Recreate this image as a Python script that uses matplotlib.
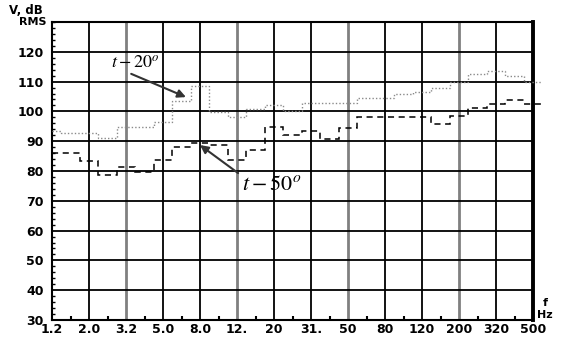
import numpy as np
import matplotlib
matplotlib.use("Agg")
import matplotlib.pyplot as plt

plt.rcParams["mathtext.fontset"] = "stix"

# third-octave band centres, Hz
bands = [1.25, 1.6, 2.0, 2.5, 3.15, 4.0, 5.0, 6.3, 8.0, 10, 12.5, 16, 20, 25,
         31.5, 40, 50, 63, 80, 100, 125, 160, 200, 250, 315, 400, 500]
# levels, dB RMS
t20 = [93.3, 92.7, 92.7, 91.2, 94.7, 94.7, 96.3, 103.6, 108.5, 99.7, 98.2, 100.7, 102.0, 100.0,
       102.7, 102.7, 102.7, 104.6, 104.6, 106.0, 106.6, 107.8, 109.8, 112.5, 113.7, 111.9, 109.8]
t50 = [85.9, 85.9, 83.5, 78.7, 81.5, 79.8, 83.6, 87.9, 89.5, 88.7, 83.6, 87.0, 94.9, 92.1,
       93.5, 90.7, 94.5, 98.0, 98.0, 98.0, 98.0, 95.7, 98.5, 101.2, 102.6, 103.8, 102.6]
xlabels = ["1.2", "2.0", "3.2", "5.0", "8.0", "12.", "20", "31.", "50", "80",
           "120", "200", "320", "500"]
ylabels = [30, 40, 50, 60, 70, 80, 90, 100, 110, 120]

n = len(bands)
pos = np.arange(n) * 0.5
edges = np.concatenate([[0], pos[:-1] + 0.25, [pos[-1] + 0.25]])

fig = plt.figure(figsize=(5.66, 3.4), dpi=100)
ax = fig.add_axes([0.0919, 0.0588, 0.8498, 0.8765])
ax.set_xlim(0, len(xlabels) - 1)
ax.set_ylim(30, 130)

# grid
for i in range(1, len(xlabels) - 1):
    gray = (i % 3 == 2)
    ax.axvline(i, color="#808080" if gray else "black", lw=2.0 if gray else 1.3, zorder=1)
for v in range(40, 130, 10):
    ax.axhline(v, color="black", lw=1.3, zorder=1)

ax.stairs(t20, edges, color="#8a8a8a", lw=1.0, ls=(0, (1, 1.5)), baseline=None,
          clip_on=False, zorder=3)
ax.stairs(t50, edges, color="black", lw=1.1, ls=(0, (4, 3)), baseline=None,
          clip_on=False, zorder=3)

for s in ax.spines.values():
    s.set_linewidth(1.5)
ax.spines["right"].set_linewidth(2.8)

ax.set_xticks(range(len(xlabels)))
ax.set_xticklabels(xlabels)
ax.set_xticks(np.arange(0.5, len(xlabels) - 1, 1), minor=True)
ax.set_yticks(ylabels)
ax.set_yticklabels([str(v) for v in ylabels])
ax.set_yticks(np.arange(30, 131, 2), minor=True)
ax.tick_params(axis="both", which="major", length=0, labelsize=9)
ax.tick_params(axis="x", which="major", pad=2)
ax.tick_params(axis="y", which="major", pad=6)
ax.tick_params(axis="x", which="minor", direction="in", length=3, width=1.5, bottom=True)
ax.tick_params(axis="y", which="minor", direction="in", length=2, width=1)
for lab in ax.get_xticklabels() + ax.get_yticklabels():
    lab.set_fontweight("bold")

fig.text(0.045, 0.968, "V, dB", fontsize=8.5, fontweight="bold", ha="center", va="center")
fig.text(0.058, 0.935, "RMS", fontsize=8, fontweight="bold", ha="center", va="center")
fig.text(0.963, 0.11, "f", fontsize=8, fontweight="bold", ha="center", va="center")
fig.text(0.963, 0.075, "Hz", fontsize=8, fontweight="bold", ha="center", va="center")

# labels with arrows
ax.text(2.24, 116.4, "$t - 20^o$", fontsize=13, ha="center", va="center", zorder=5)
ax.annotate("", xy=(3.62, 104.8), xytext=(2.14, 112.6),
            arrowprops=dict(arrowstyle="-|>", color="#333333", lw=1.5, mutation_scale=12,
                            shrinkA=0, shrinkB=0), zorder=5)
ax.text(5.95, 75.8, "$t - 50^o$", fontsize=16, ha="center", va="center", zorder=5)
ax.annotate("", xy=(4.0, 88.7), xytext=(5.03, 79.3),
            arrowprops=dict(arrowstyle="-|>", color="#333333", lw=1.5, mutation_scale=12,
                            shrinkA=0, shrinkB=0), zorder=5)

fig.savefig("out.png", dpi=100)
